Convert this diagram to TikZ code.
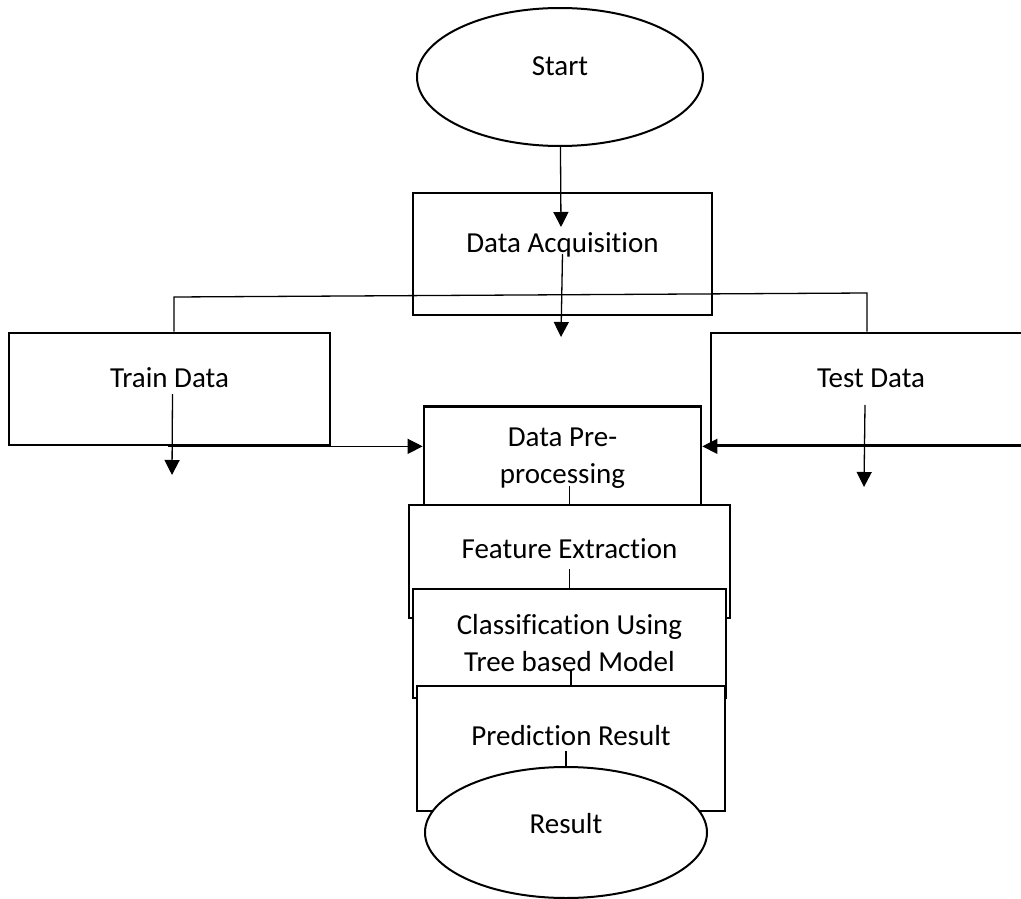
\documentclass[tikz,border=0pt]{standalone}
\usepackage{fontspec}
\setmainfont{Carlito}[Ligatures=NoCommon]
\usepackage{tikz}
\usetikzlibrary{positioning, shapes.geometric, arrows.meta}

\begin{document}
\begin{tikzpicture}[x=1pt, y=-1pt,
		every node/.style={text=black, font=\fontsize{29}{37}\selectfont, align=center},
		box/.style={rectangle, draw, line width=2.7pt, fill=white, inner sep=0pt},
		oval/.style={ellipse, draw, line width=2pt, fill=white, inner sep=0pt},
		conn/.style={line width=1.3pt},
		arr/.style={conn, -{Triangle[length=15pt, width=15pt]}}
		]
		\useasboundingbox (0,0) rectangle (1021,899);
		
		% Nodos principales
		\node[oval, minimum width=286pt, minimum height=138pt, text depth=22pt] (start) at (560,77) {Start};
		\node[box, minimum width=299pt, minimum height=122pt, text depth=22pt] (acq) at (562.5,254) {Data Acquisition};
		\node[box, minimum width=321pt, minimum height=112pt, text depth=22pt] (train) at (169.5,389) {Train Data};
		\node[box, minimum width=320pt, minimum height=112pt, text depth=22pt] (test) at (871,389) {Test Data};
		
		% columna central
		\node[box, minimum width=277pt, minimum height=103pt] (pre) at (562.5,458) {Data Pre-\\processing};
		\node[box, minimum width=321pt, minimum height=113pt, text depth=25pt] (feat) at (569.5,561.5) {Feature Extraction};
		\node[box, minimum width=313pt, minimum height=109pt] (cls) at (569.5,643.5) {Classification Using\\Tree based Model};
		\node[box, minimum width=308pt, minimum height=125pt, text depth=27pt] (pred) at (571,748.5) {Prediction Result};
		\node[oval, minimum width=282pt, minimum height=131pt, text depth=19pt] (res) at (566,832.5) {Result};
		
		% puntos libres
		\coordinate (acqin) at (561,227);
		\coordinate (acqout) at (561,337);
		\coordinate (splitL) at (174,297);
		\coordinate (splitR) at (867,293);
		\coordinate (trainout) at (172,475);
		\coordinate (testout) at (864,487);
		
		% flechas principales
		\draw[arr] (start) -- (acqin);
		\draw[arr] (acq.center) -- (acqout);
		\draw[conn] (splitL |- train.north) -- (splitL) -- (splitR) -- (splitR |- test.north);
		
		% flechas de train y test
		\draw[arr] ([xshift=3pt, yshift=-5pt]train.center) -- (trainout);
		\draw[arr] ([xshift=-6pt, yshift=-16pt]test.center) -- (testout);
		\draw[arr] ([xshift=-1.5pt]train.south) -- (pre.west |- train.south);
		\draw[arr] (test.south east) -- (pre.east |- test.south);
		
		% lineas de la columna central
		\draw[conn] (feat.north) -- ++(0,-18);
		\draw[conn] (cls.north) -- ++(0,-19);
		\draw[conn] (pred.north) -- ++(0,-14);
		\draw[conn] (res.north) -- ++(0,-15);
		
	\end{tikzpicture}
\end{document}
